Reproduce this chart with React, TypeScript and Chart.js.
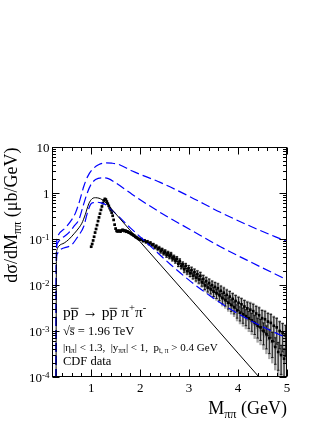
import React, { useEffect, useRef } from "react";
import { Chart, registerables } from "chart.js";

Chart.register(...registerables);

// ---------- axis ranges & ticks ----------
const massMin = 0.2;
const massMax = 5;
const xsecMin = 1e-4;
const xsecMax = 10;
const xTickValues = [1, 2, 3, 4, 5];
const xTickLabels = ["1", "2", "3", "4", "5"];
const yTickExponents = [1, 0, -1, -2, -3, -4];

// ---------- theory curve (black solid) ----------
const theoryMass = [0.279, 0.29, 0.30, 0.34, 0.45, 0.54, 0.65, 0.75, 0.81, 0.88, 0.95, 1.02, 1.09, 1.16, 1.22, 1.30, 1.39, 1.5, 2.0, 3.0, 4.0, 4.6];
const theoryXsec = [1e-6, 0.035, 0.058, 0.07, 0.082, 0.097, 0.13, 0.175, 0.22, 0.34, 0.58, 0.75, 0.79, 0.77, 0.72, 0.61, 0.48, 0.355, 0.087, 0.0054, 3.3e-4, 6.2e-5];

// ---------- blue dashed curves ----------
const blueUpperMass = [0.279, 0.29, 0.31, 0.336, 0.473, 0.6, 0.68, 0.76, 0.85, 0.93, 1.02, 1.15, 1.29, 1.42, 1.56, 1.84, 2.41, 3.0, 3.64, 4.3, 5.0];
const blueUpperXsec = [1e-6, 0.06, 0.105, 0.125, 0.175, 0.26, 0.37, 0.65, 1.4, 2.3, 3.2, 4.1, 4.5, 4.45, 4.2, 3.0, 1.7, 0.85, 0.38, 0.18, 0.088];

const blueMiddleMass = [0.279, 0.29, 0.31, 0.336, 0.54, 0.65, 0.75, 0.83, 0.92, 1.0, 1.09, 1.22, 1.35, 1.5, 1.84, 2.48, 3.0, 3.64, 4.3, 5.0];
const blueMiddleXsec = [1e-6, 0.045, 0.08, 0.089, 0.136, 0.19, 0.265, 0.5, 1.0, 1.55, 1.96, 2.14, 2.05, 1.66, 0.93, 0.34, 0.165, 0.068, 0.03, 0.013];

const blueLowerMass = [0.279, 0.29, 0.31, 0.336, 0.61, 0.72, 0.85, 0.92, 0.985, 1.05, 1.12, 1.2, 1.29, 1.42, 1.56, 1.8, 2.21, 2.62, 3.03, 3.44, 3.84, 4.4, 5.0];
const blueLowerXsec = [1e-6, 0.03, 0.048, 0.054, 0.076, 0.11, 0.19, 0.36, 0.56, 0.62, 0.63, 0.61, 0.56, 0.43, 0.31, 0.175, 0.07, 0.028, 0.012, 0.0057, 0.003, 0.0014, 0.0007];

// ---------- CDF data ----------
const dataMass = [
  1.00, 1.02, 1.04, 1.06, 1.08, 1.10, 1.12, 1.14, 1.16, 1.18, 1.20, 1.22, 1.24, 1.26, 1.28, 1.30, 1.32, 1.34, 1.36, 1.38,
  1.40, 1.42, 1.44, 1.46, 1.48, 1.50, 1.52, 1.54, 1.56, 1.58, 1.60, 1.62, 1.64, 1.66, 1.68, 1.70, 1.72, 1.74, 1.76, 1.78,
  1.80, 1.82, 1.84, 1.86, 1.88, 1.90, 1.92, 1.94, 1.96, 1.98, 2.00,
  2.03, 2.06, 2.09, 2.12, 2.15, 2.18, 2.21, 2.24, 2.27, 2.30, 2.33, 2.36, 2.39, 2.42, 2.45, 2.48, 2.51, 2.54, 2.57, 2.60,
  2.63, 2.66, 2.69, 2.72, 2.75, 2.78, 2.81, 2.84, 2.87, 2.90, 2.93, 2.96, 2.99,
  3.02, 3.05, 3.08, 3.11, 3.14, 3.17, 3.20, 3.23, 3.26, 3.29, 3.32, 3.35, 3.38, 3.41, 3.44, 3.47, 3.50, 3.53, 3.56, 3.59,
  3.62, 3.65, 3.68, 3.71, 3.74, 3.77, 3.80, 3.83, 3.86, 3.89, 3.92, 3.95, 3.98,
  4.01, 4.04, 4.07, 4.10, 4.13, 4.16, 4.19, 4.22, 4.25, 4.28, 4.31, 4.34, 4.37, 4.40, 4.43, 4.46, 4.49, 4.52, 4.55, 4.58,
  4.61, 4.64, 4.67, 4.70, 4.73, 4.76, 4.79, 4.82, 4.85, 4.88, 4.91, 4.94, 4.97,
];
const dataXsec = [
  0.068, 0.078, 0.093, 0.112, 0.138, 0.165, 0.2, 0.245, 0.295, 0.355, 0.43, 0.51, 0.6, 0.69, 0.745, 0.72, 0.65, 0.585, 0.525, 0.47,
  0.425, 0.375, 0.32, 0.26, 0.205, 0.168, 0.15, 0.146, 0.152, 0.149, 0.145, 0.153, 0.158, 0.155, 0.149, 0.152, 0.144, 0.147, 0.14, 0.137,
  0.134, 0.129, 0.126, 0.121, 0.118, 0.112, 0.109, 0.106, 0.102, 0.099, 0.097,
  0.099, 0.091, 0.093, 0.086, 0.088, 0.079, 0.083, 0.074, 0.076, 0.066, 0.07, 0.061, 0.064, 0.055, 0.059, 0.05, 0.053, 0.045, 0.049, 0.042,
  0.046, 0.038, 0.04, 0.034, 0.037, 0.029, 0.033, 0.026, 0.028, 0.022, 0.026, 0.02, 0.023,
  0.018, 0.021, 0.016, 0.019, 0.0145, 0.0172, 0.0132, 0.0158, 0.0115, 0.0135, 0.0098, 0.0121, 0.0088, 0.011, 0.0081, 0.0099, 0.0072, 0.0091, 0.0066, 0.0085,
  0.006, 0.0075, 0.0052, 0.0068, 0.0047, 0.0061, 0.0041, 0.0056, 0.0037, 0.005, 0.0033, 0.0045, 0.0028,
  0.0041, 0.0025, 0.0038, 0.0023, 0.0034, 0.0021, 0.0031, 0.0019, 0.0029, 0.0017, 0.0027, 0.0015, 0.0024, 0.0013, 0.0022, 0.0012, 0.0019, 0.001, 0.0018, 0.00085,
  0.0016, 0.0007, 0.0015, 0.0006, 0.0013, 0.00045, 0.0012, 0.00035, 0.001, 0.0003, 0.0009, 0.00025, 0.0008,
];
const dataStatRel = [
  0.03, 0.03, 0.03, 0.03, 0.03, 0.03, 0.03, 0.03, 0.03, 0.03, 0.03, 0.03, 0.03, 0.03, 0.03, 0.03, 0.03, 0.03, 0.03, 0.03,
  0.03, 0.03, 0.03, 0.03, 0.03, 0.04, 0.04, 0.04, 0.04, 0.04, 0.04, 0.04, 0.04, 0.04, 0.04, 0.04, 0.04, 0.04, 0.04, 0.04,
  0.05, 0.05, 0.05, 0.05, 0.05, 0.05, 0.05, 0.05, 0.05, 0.05, 0.05,
  0.06, 0.07, 0.06, 0.07, 0.07, 0.08, 0.07, 0.08, 0.08, 0.09, 0.08, 0.09, 0.09, 0.10, 0.09, 0.10, 0.10, 0.11, 0.10, 0.11,
  0.11, 0.12, 0.11, 0.12, 0.12, 0.13, 0.12, 0.13, 0.13, 0.14, 0.13, 0.14, 0.15,
  0.15, 0.16, 0.15, 0.17, 0.16, 0.18, 0.17, 0.19, 0.18, 0.20, 0.19, 0.21, 0.20, 0.22, 0.21, 0.23, 0.22, 0.24, 0.23, 0.25,
  0.24, 0.26, 0.25, 0.27, 0.26, 0.28, 0.27, 0.29, 0.28, 0.30, 0.29, 0.31, 0.32,
  0.32, 0.34, 0.33, 0.36, 0.35, 0.38, 0.37, 0.40, 0.39, 0.42, 0.41, 0.44, 0.43, 0.46, 0.45, 0.48, 0.47, 0.50, 0.49, 0.52,
  0.51, 0.54, 0.53, 0.56, 0.55, 0.58, 0.57, 0.60, 0.59, 0.62, 0.61, 0.64, 0.65,
];
const dataSysRel = [
  0.05, 0.05, 0.05, 0.05, 0.05, 0.05, 0.05, 0.05, 0.05, 0.05, 0.05, 0.05, 0.05, 0.05, 0.05, 0.05, 0.05, 0.05, 0.05, 0.05,
  0.06, 0.06, 0.06, 0.06, 0.06, 0.06, 0.06, 0.06, 0.06, 0.06, 0.06, 0.06, 0.06, 0.06, 0.06, 0.06, 0.06, 0.06, 0.06, 0.06,
  0.07, 0.07, 0.07, 0.07, 0.07, 0.07, 0.07, 0.07, 0.07, 0.07, 0.07,
  0.08, 0.09, 0.08, 0.09, 0.09, 0.10, 0.09, 0.10, 0.10, 0.11, 0.11, 0.12, 0.12, 0.13, 0.12, 0.13, 0.13, 0.14, 0.14, 0.15,
  0.15, 0.16, 0.15, 0.16, 0.16, 0.17, 0.17, 0.18, 0.18, 0.19, 0.18, 0.19, 0.20,
  0.20, 0.21, 0.20, 0.22, 0.22, 0.24, 0.23, 0.25, 0.24, 0.26, 0.26, 0.28, 0.27, 0.29, 0.28, 0.30, 0.30, 0.32, 0.31, 0.33,
  0.32, 0.34, 0.34, 0.36, 0.35, 0.37, 0.36, 0.38, 0.38, 0.40, 0.39, 0.41, 0.42,
  0.42, 0.44, 0.43, 0.46, 0.45, 0.48, 0.47, 0.50, 0.50, 0.52, 0.52, 0.55, 0.54, 0.57, 0.56, 0.59, 0.58, 0.61, 0.60, 0.63,
  0.62, 0.65, 0.64, 0.67, 0.66, 0.69, 0.68, 0.70, 0.70, 0.72, 0.71, 0.74, 0.75,
];

// ---------- text ----------
type Seg = { t: string; sub?: boolean; sup?: boolean; bar?: boolean };
const yTitle: Seg[] = [{ t: "dσ/dM" }, { t: "ππ", sub: true }, { t: " (μb/GeV)" }];
const xTitle: Seg[] = [{ t: "M" }, { t: "ππ", sub: true }, { t: " (GeV)" }];
const noteLine1: Seg[] = [
  { t: "p" }, { t: "p", bar: true }, { t: " → p" }, { t: "p", bar: true }, { t: " π" }, { t: "+", sup: true }, { t: "π" }, { t: "-", sup: true },
];
const noteLine2: Seg[] = [{ t: "√" }, { t: "s", bar: true }, { t: " = 1.96 TeV" }];
const noteLine3: Seg[] = [
  { t: "|η" }, { t: "π", sub: true }, { t: "| < 1.3,  |y" }, { t: "ππ", sub: true }, { t: "| < 1,  p" }, { t: "t, π", sub: true }, { t: " > 0.4 GeV" },
];
const noteLine4: Seg[] = [{ t: "CDF data" }];

const FONT = "'Liberation Serif', 'Times New Roman', serif";

function drawRich(ctx: CanvasRenderingContext2D, segs: Seg[], x: number, y: number, size: number, align: "left" | "right") {
  const parts = segs.map((s) => {
    const fs = s.sub || s.sup ? size * 0.68 : size;
    ctx.font = `${fs}px ${FONT}`;
    return { ...s, fs, w: ctx.measureText(s.t).width };
  });
  const total = parts.reduce((a, p) => a + p.w, 0);
  let cx = align === "right" ? x - total : x;
  ctx.textAlign = "left";
  ctx.textBaseline = "alphabetic";
  for (const p of parts) {
    ctx.font = `${p.fs}px ${FONT}`;
    const dy = p.sub ? size * 0.22 : p.sup ? -size * 0.38 : 0;
    ctx.fillText(p.t, cx, y + dy);
    if (p.bar) {
      ctx.beginPath();
      ctx.lineWidth = 0.8;
      ctx.moveTo(cx, y - size * 0.56);
      ctx.lineTo(cx + p.w, y - size * 0.56);
      ctx.stroke();
    }
    cx += p.w;
  }
}

const decorPlugin = {
  id: "decor",
  beforeDatasetsDraw(chart: any) {
    const ctx: CanvasRenderingContext2D = chart.ctx;
    const { left, right, top, bottom } = chart.chartArea;
    const xs = chart.scales.x;
    const ys = chart.scales.y;
    ctx.save();
    ctx.beginPath();
    ctx.rect(left, top, right - left, bottom - top);
    ctx.clip();
    // systematic (grey)
    ctx.fillStyle = "rgba(155,155,155,0.9)";
    for (let i = 0; i < dataMass.length; i++) {
      const x = xs.getPixelForValue(dataMass[i]);
      const v = dataXsec[i];
      const hi = ys.getPixelForValue(v * (1 + dataSysRel[i]));
      const lo = ys.getPixelForValue(Math.max(v * (1 - dataSysRel[i]), 1e-7));
      ctx.fillRect(x - 1.2, hi, 2.4, lo - hi);
    }
    // statistical (black)
    ctx.strokeStyle = "#000";
    ctx.lineWidth = 0.8;
    for (let i = 0; i < dataMass.length; i++) {
      const x = xs.getPixelForValue(dataMass[i]);
      const v = dataXsec[i];
      const hi = ys.getPixelForValue(v * (1 + dataStatRel[i]));
      const lo = ys.getPixelForValue(Math.max(v * (1 - dataStatRel[i]), 1e-7));
      ctx.beginPath();
      ctx.moveTo(x, hi);
      ctx.lineTo(x, lo);
      if (lo - hi > 4) {
        ctx.moveTo(x - 1.3, hi);
        ctx.lineTo(x + 1.3, hi);
        ctx.moveTo(x - 1.3, lo);
        ctx.lineTo(x + 1.3, lo);
      }
      ctx.stroke();
    }
    ctx.restore();
  },
  afterDraw(chart: any) {
    const ctx: CanvasRenderingContext2D = chart.ctx;
    const { left, right, top, bottom } = chart.chartArea;
    const xs = chart.scales.x;
    const ys = chart.scales.y;
    ctx.save();
    ctx.strokeStyle = "#000";
    ctx.fillStyle = "#000";
    ctx.lineWidth = 1;
    const L = Math.round(left) + 0.5;
    const R = Math.round(right) - 0.5;
    const T = Math.round(top) + 0.5;
    const B = Math.round(bottom) - 0.5;
    ctx.strokeRect(L, T, R - L, B - T);

    const majorLen = 7;
    const minorLen = 3.5;
    // x ticks
    ctx.beginPath();
    for (let k = 1; k < 25; k++) {
      const v = massMin + k * 0.2;
      if (v > massMax + 1e-6) break;
      const isMajor = Math.abs(v - Math.round(v)) < 1e-6;
      const px = Math.round(xs.getPixelForValue(v)) + 0.5;
      const len = isMajor ? majorLen : minorLen;
      ctx.moveTo(px, B);
      ctx.lineTo(px, B - len);
      ctx.moveTo(px, T);
      ctx.lineTo(px, T + len);
    }
    // y ticks (log)
    for (let e = -4; e <= 1; e++) {
      for (let m = 1; m <= 9; m++) {
        const v = m * Math.pow(10, e);
        if (v > xsecMax * 1.0001) break;
        const py = Math.round(ys.getPixelForValue(v)) + 0.5;
        const len = m === 1 ? majorLen : minorLen;
        ctx.moveTo(L, py);
        ctx.lineTo(L + len, py);
        ctx.moveTo(R, py);
        ctx.lineTo(R - len, py);
      }
    }
    ctx.stroke();

    // x tick labels
    ctx.font = `13px ${FONT}`;
    ctx.textAlign = "center";
    ctx.textBaseline = "alphabetic";
    xTickValues.forEach((v, i) => {
      ctx.fillText(xTickLabels[i], xs.getPixelForValue(v), bottom + 14.5);
    });

    // y tick labels
    yTickExponents.forEach((e) => {
      const py = ys.getPixelForValue(Math.pow(10, e));
      const base = e === 0 ? "1" : "10";
      const exp = e === 0 || e === 1 ? "" : String(e);
      ctx.font = `13px ${FONT}`;
      const wb = ctx.measureText(base).width;
      ctx.font = `9px ${FONT}`;
      const we = exp ? ctx.measureText(exp).width : 0;
      const xEnd = left - 2.5;
      const x0 = xEnd - wb - we;
      ctx.textAlign = "left";
      ctx.font = `13px ${FONT}`;
      ctx.fillText(base, x0, py + 4.5);
      if (exp) {
        ctx.font = `9px ${FONT}`;
        ctx.fillText(exp, x0 + wb, py + 0.5);
      }
    });

    // axis titles
    drawRich(ctx, xTitle, right, 414, 18, "right");
    ctx.save();
    ctx.translate(17, top + 0.5);
    ctx.rotate(-Math.PI / 2);
    drawRich(ctx, yTitle, 0, 0, 18, "right");
    ctx.restore();

    // annotation
    drawRich(ctx, noteLine1, 63, 317, 15.5, "left");
    drawRich(ctx, noteLine2, 63, 335, 12.5, "left");
    drawRich(ctx, noteLine3, 63, 350.5, 11, "left");
    drawRich(ctx, noteLine4, 63, 365, 12.5, "left");
    ctx.restore();
  },
};

function pairs(xs: number[], ys: number[]) {
  return xs.map((x, i) => ({ x, y: ys[i] }));
}

export default function App() {
  const ref = useRef<HTMLCanvasElement | null>(null);
  useEffect(() => {
    if (!ref.current) return;
    const blueDash = [9, 4];
    const chart = new Chart(ref.current, {
      type: "scatter",
      data: {
        datasets: [
          {
            data: pairs(theoryMass, theoryXsec),
            showLine: true,
            borderColor: "#000",
            borderWidth: 1,
            pointRadius: 0,
            cubicInterpolationMode: "monotone",
          },
          {
            data: pairs(blueUpperMass, blueUpperXsec),
            showLine: true,
            borderColor: "#0000ff",
            borderWidth: 1.2,
            borderDash: blueDash,
            pointRadius: 0,
            cubicInterpolationMode: "monotone",
          },
          {
            data: pairs(blueMiddleMass, blueMiddleXsec),
            showLine: true,
            borderColor: "#0000ff",
            borderWidth: 1.2,
            borderDash: blueDash,
            pointRadius: 0,
            cubicInterpolationMode: "monotone",
          },
          {
            data: pairs(blueLowerMass, blueLowerXsec),
            showLine: true,
            borderColor: "#0000ff",
            borderWidth: 1.2,
            borderDash: blueDash,
            pointRadius: 0,
            cubicInterpolationMode: "monotone",
          },
          {
            data: pairs(dataMass, dataXsec),
            showLine: false,
            pointStyle: "rect",
            pointRadius: 1.9,
            backgroundColor: "#000",
            borderColor: "#000",
            borderWidth: 0,
          },
        ],
      } as any,
      options: {
        animation: false,
        responsive: false,
        events: [],
        layout: { padding: { left: 52, top: 147, right: 40, bottom: 46 } },
        plugins: { legend: { display: false }, tooltip: { enabled: false } },
        scales: {
          x: { type: "linear", min: massMin, max: massMax, display: false },
          y: { type: "logarithmic", min: xsecMin, max: xsecMax, display: false },
        },
      } as any,
      plugins: [decorPlugin],
    });
    return () => chart.destroy();
  }, []);
  return (
    <div style={{ position: "absolute", left: 0, top: 0, width: 327, height: 423, background: "#fff" }}>
      <canvas ref={ref} width={327} height={423} style={{ width: 327, height: 423, display: "block" }} />
    </div>
  );
}
